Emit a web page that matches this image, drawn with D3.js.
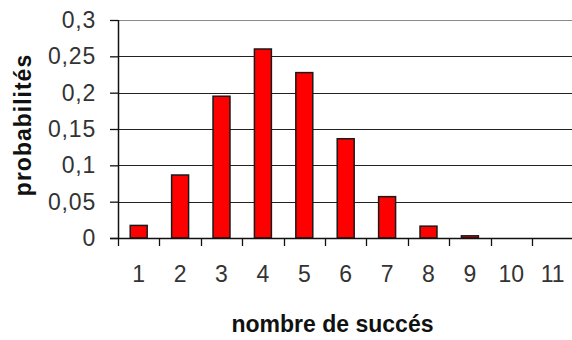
<!DOCTYPE html>
<html><head><meta charset="utf-8">
<script src="https://cdn.jsdelivr.net/npm/d3@7"></script>
<style>
html,body{margin:0;padding:0;background:#fff;}
svg{display:block;}
</style>
</head><body>
<svg id="chart" width="572" height="340"></svg>
<script>
const categories = ["1","2","3","4","5","6","7","8","9","10","11"];
const probabilities = [0.0173, 0.0867, 0.1951, 0.2601, 0.2276, 0.1366, 0.0569, 0.0163, 0.0030, 0, 0];
const yTicks = [0, 0.05, 0.1, 0.15, 0.2, 0.25, 0.3];
const yTickLabels = ["0", "0,05", "0,1", "0,15", "0,2", "0,25", "0,3"];
const xTitle = "nombre de succés";
const yTitle = "probabilités";

const svg = d3.select("#chart");
const mLeft = 118, mTop = 20, mBottom = 238, mRight = 573.4;

const x = d3.scaleBand().domain(categories).range([mLeft, mRight]).padding(0);
const y = d3.scaleLinear().domain([0, 0.3]).range([mBottom, mTop]);
const font = "'Liberation Sans', Arial, sans-serif";

// gridlines
svg.append("g").selectAll("line").data(yTicks.filter(d => d > 0)).join("line")
  .attr("x1", mLeft).attr("x2", 572)
  .attr("y1", d => Math.round(y(d)) + 0.5).attr("y2", d => Math.round(y(d)) + 0.5)
  .attr("stroke", d => d === 0.3 ? "#8a8a8a" : "#222").attr("stroke-width", 1.2);

// bars
const bw = x.bandwidth() * 0.41;
svg.append("g").selectAll("rect").data(probabilities).join("rect")
  .attr("x", (d, i) => x(categories[i]) + (x.bandwidth() - bw) / 2)
  .attr("y", d => y(d))
  .attr("width", bw)
  .attr("height", d => mBottom - y(d))
  .attr("fill", "#ff0000")
  .attr("stroke", "#1a1a1a").attr("stroke-width", 1.5);

// y axis
const yAxis = svg.append("g").attr("transform", `translate(${mLeft},0)`)
  .call(d3.axisLeft(y).tickValues(yTicks).tickSize(8).tickPadding(14)
        .tickFormat((d, i) => yTickLabels[i]));
yAxis.select(".domain").attr("stroke", "#111").attr("stroke-width", 1.5).attr("d", `M0.5,${mTop}V${mBottom}`);
yAxis.selectAll(".tick line").attr("stroke", "#111").attr("stroke-width", 1.3);
yAxis.selectAll("text").attr("font-family", font).attr("font-size", 23)
  .attr("letter-spacing", 0.8).attr("fill", "#333");

// x axis
const xAxis = svg.append("g").attr("transform", `translate(0,${mBottom})`)
  .call(d3.axisBottom(x).tickSize(0).tickPadding(28));
xAxis.select(".domain").attr("stroke", "#111").attr("stroke-width", 1.5).attr("d", `M${mLeft - 8},0.5H572`);
xAxis.selectAll("text").attr("font-family", font).attr("font-size", 23).attr("fill", "#333");

// x tick marks at band boundaries
svg.append("g").selectAll("line").data(categories).join("line")
  .attr("x1", d => Math.round(x(d)) + 0.5).attr("x2", d => Math.round(x(d)) + 0.5)
  .attr("y1", mBottom).attr("y2", mBottom + 8)
  .attr("stroke", "#111").attr("stroke-width", 1.3);

// titles
svg.append("text").attr("x", 332.5).attr("y", 332).attr("text-anchor", "middle")
  .attr("font-family", font).attr("font-weight", "bold").attr("font-size", 23)
  .attr("letter-spacing", 0).attr("fill", "#111").text(xTitle);
svg.append("text").attr("transform", "translate(31,125) rotate(-90)").attr("text-anchor", "middle")
  .attr("font-family", font).attr("font-weight", "bold").attr("font-size", 23)
  .attr("letter-spacing", 1).attr("fill", "#111").text(yTitle);
</script>
</body></html>
